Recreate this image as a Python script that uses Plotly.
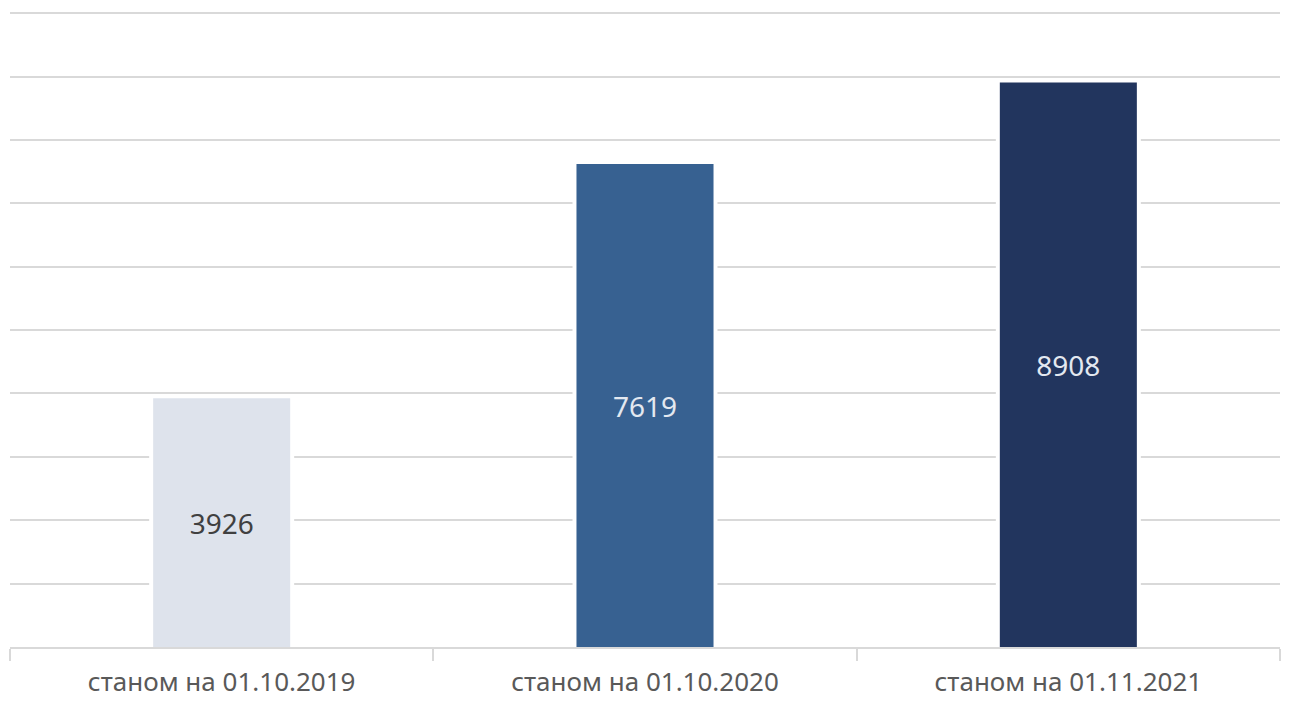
import plotly.graph_objects as go

categories = ["станом на 01.10.2019", "станом на 01.10.2020", "станом на 01.11.2021"]
values = [3926, 7619, 8908]
bar_colors = ["#DEE3EC", "#376191", "#22355E"]
text_colors = ["#404040", "#E3E8F0", "#E3E8F0"]

fig = go.Figure()
# white halo behind bars (interrupts gridlines next to the bars)
fig.add_trace(go.Bar(
    x=categories, y=values,
    width=0.3425,
    marker=dict(color="white", line=dict(width=0)),
    hoverinfo="skip",
))
fig.add_trace(go.Bar(
    x=categories,
    y=values,
    text=[str(v) for v in values],
    textposition="inside",
    insidetextanchor="middle",
    textfont=dict(size=28, color=text_colors, family="Noto Sans"),
    marker=dict(color=bar_colors, line=dict(width=0)),
    width=0.3237,
))

fig.update_layout(
    width=1282, height=694,
    margin=dict(l=2, r=10, t=2, b=55),
    paper_bgcolor="white", plot_bgcolor="white",
    showlegend=False,
    barmode="overlay",
    font=dict(family="Noto Sans", color="#595959"),
    uniformtext=dict(mode=False),
)
fig.update_xaxes(
    type="category",
    tickson="boundaries",
    ticks="outside", ticklen=12, tickcolor="#D9D9D9", tickwidth=1.5,
    showline=True, linecolor="#D9D9D9", linewidth=1.5,
    showgrid=False,
    tickfont=dict(size=26, color="#595959", family="Noto Sans"),
    ticklabelstandoff=11,
    automargin=False,
)
fig.update_yaxes(
    range=[0, 10050], dtick=1000,
    showticklabels=False,
    showgrid=True, gridcolor="#D9D9D9", gridwidth=1.5,
    zeroline=False,
    automargin=False,
)

fig.write_html("out.html")
